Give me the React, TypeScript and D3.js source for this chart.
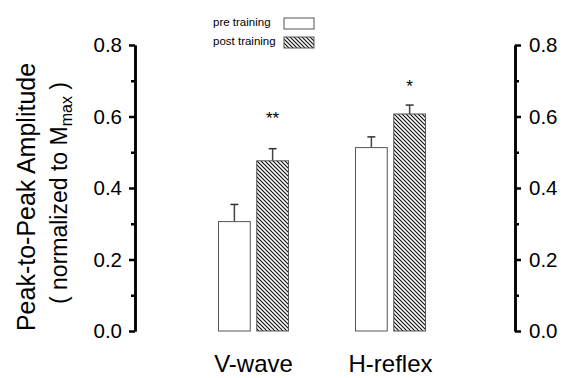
import React, { useEffect, useRef } from 'react';
import * as d3 from 'd3';

// chart values
const categories = ['V-wave', 'H-reflex'];
const seriesNames = ['pre training', 'post training'];
const preValues = [0.306, 0.513];
const postValues = [0.476, 0.607];
const preErrors = [0.048, 0.030];
const postErrors = [0.034, 0.025];
const majorTicks = [0, 0.2, 0.4, 0.6, 0.8];
const minorTicks = [0.1, 0.3, 0.5, 0.7];
const sigLabels = ['**', '*'];
const sigValues = [0.604, 0.695];

const width = 565;
const height = 378;
const font = '"Liberation Sans", Arial, Helvetica, sans-serif';

const yScale = d3.scaleLinear().domain([0, 0.8]).range([331, 45]);
const x0 = d3.scaleBand().domain(categories).range([185, 459]);
const x1 = d3.scaleBand().domain(seriesNames).range([33.5, 103.5]).paddingInner(0.17);

const App = () => {
  const leftMajor = useRef(null);
  const leftMinor = useRef(null);
  const rightMajor = useRef(null);
  const rightMinor = useRef(null);

  useEffect(() => {
    const style = (g) => {
      g.select('.domain').attr('stroke', '#000').attr('stroke-width', 2.5);
      g.selectAll('.tick line').attr('stroke', '#000').attr('stroke-width', 2.5);
      g.selectAll('.tick text').attr('font-family', font).attr('font-size', 20.5).attr('fill', '#000');
    };
    d3.select(leftMajor.current)
      .call(d3.axisLeft(yScale).tickValues(majorTicks).tickSize(6).tickSizeOuter(0).tickPadding(7).tickFormat(d3.format('.1f')))
      .call(style);
    d3.select(leftMinor.current)
      .call(d3.axisLeft(yScale).tickValues(minorTicks).tickSize(4).tickSizeOuter(0).tickFormat(() => ''))
      .call(style);
    d3.select(rightMajor.current)
      .call(d3.axisRight(yScale).tickValues(majorTicks).tickSize(6).tickSizeOuter(0).tickPadding(8).tickFormat(d3.format('.1f')))
      .call(style);
    d3.select(rightMinor.current)
      .call(d3.axisRight(yScale).tickValues(minorTicks).tickSize(4).tickSizeOuter(0).tickFormat(() => ''))
      .call(style);
  }, []);

  const series = [
    { name: seriesNames[0], values: preValues, errors: preErrors, fill: '#fff' },
    { name: seriesNames[1], values: postValues, errors: postErrors, fill: 'url(#hatch)' },
  ];

  return (
    <svg width={width} height={height} style={{ position: 'absolute', left: 0, top: 0, background: '#fff' }}>
      <defs>
        <pattern id="hatch" width="4" height="4" patternUnits="userSpaceOnUse">
          <rect width="4" height="4" fill="#fff" />
          <path d="M-1,-1 L5,5 M3,-1 L5,1 M-1,3 L1,5" stroke="#111" strokeWidth="1.2" />
        </pattern>
      </defs>

      {/* bars with error bars */}
      {series.map((s) =>
        categories.map((c, i) => {
          const bx = x0(c) + x1(s.name);
          const bw = x1.bandwidth();
          const top = yScale(s.values[i]);
          const cap = yScale(s.values[i] + s.errors[i]);
          const cx = bx + bw / 2;
          return (
            <g key={s.name + c}>
              <line x1={cx} x2={cx} y1={top} y2={cap} stroke="#444" strokeWidth={1.5} />
              <line x1={cx - 4} x2={cx + 4} y1={cap} y2={cap} stroke="#333" strokeWidth={1.5} />
              <rect x={bx} y={top} width={bw} height={yScale(0) - top} fill={s.fill} stroke="#555" strokeWidth={1} />
            </g>
          );
        })
      )}

      {/* significance markers */}
      {categories.map((c, i) => (
        <text key={c} x={x0(c) + x1(seriesNames[1]) + x1.bandwidth() / 2} y={yScale(sigValues[i]) + 9}
          textAnchor="middle" fontFamily={font} fontSize={17}>{sigLabels[i]}</text>
      ))}

      {/* axes */}
      <g ref={leftMajor} transform="translate(135,0)" />
      <g ref={leftMinor} transform="translate(135,0)" />
      <g ref={rightMajor} transform="translate(515,0)" />
      <g ref={rightMinor} transform="translate(515,0)" />

      {/* y title */}
      <g transform="translate(0,197)" fontFamily={font} textAnchor="middle">
        <text transform="translate(35,0) rotate(-90)" fontSize={25}>Peak-to-Peak Amplitude</text>
        <text transform="translate(67,-4) rotate(-90)" fontSize={23}>
          ( normalized to M<tspan fontSize={16} dy={5}>max</tspan><tspan dy={-5}> )</tspan>
        </text>
      </g>

      {/* category labels */}
      {categories.map((c) => (
        <text key={c} x={x0(c) + x0.bandwidth() / 2} y={372} textAnchor="middle" fontFamily={font} fontSize={24}>{c}</text>
      ))}

      {/* legend */}
      {series.map((s, i) => (
        <g key={s.name} transform={`translate(0,${i * 19})`}>
          <text x={213} y={26} fontFamily={font} fontSize={11.5}>{s.name}</text>
          <rect x={284} y={18} width={30} height={11} fill={s.fill} stroke="#555" strokeWidth={1} />
        </g>
      ))}
    </svg>
  );
};

export default App;
